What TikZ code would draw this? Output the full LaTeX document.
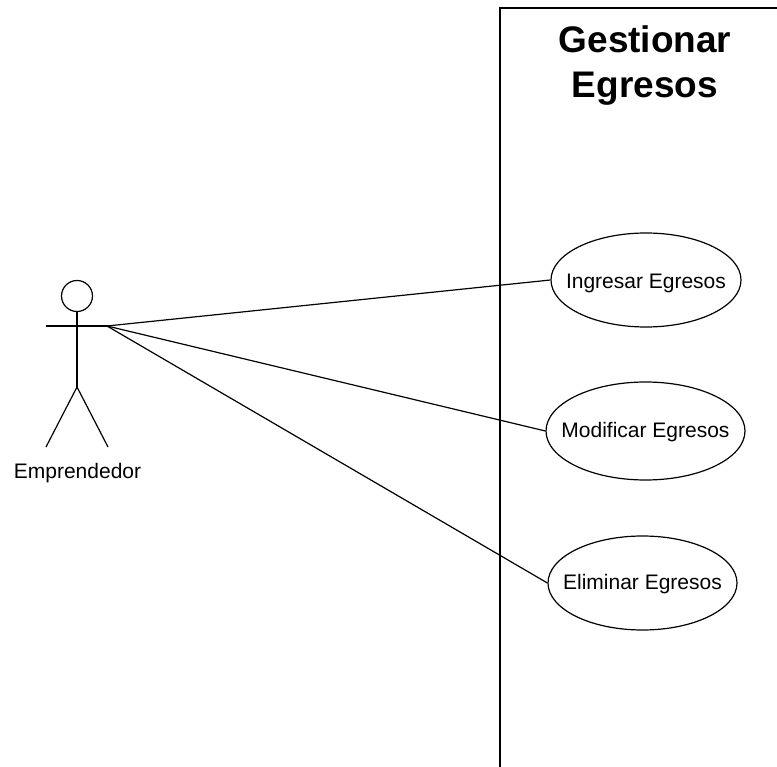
\documentclass[tikz,border=0pt]{standalone}
\usepackage{fontspec}
\setmainfont{Liberation Sans}
\usetikzlibrary{shapes.geometric}
\begin{document}
\begin{tikzpicture}[x=1pt,y=-1pt,
  ln/.style={draw=black,line width=1.2pt},
  usecase/.style={ln,ellipse,inner sep=0pt,fill=white},
  lbl/.style={inner sep=0pt,font=\fontsize{21}{25}\selectfont},
  uclbl/.style={lbl,text height=#1,text depth=0pt},
  ttl/.style={inner sep=0pt,align=center,font=\fontsize{37}{45}\selectfont\bfseries}]
\useasboundingbox (0,0) rectangle (777,767);
\path[fill=white] (0,0) rectangle (777,767);
% system boundary
\coordinate (bl) at (500,767);
\coordinate (tl) at (500,8);
\coordinate (tr) at (777,8);
\draw[ln,line width=1.8pt] (bl) -- (tl) -- (tr);
\node[ttl] (title) at (645,65.5) {Gestionar\\Egresos};
% actor
\node[ln,circle,minimum size=31pt,inner sep=0pt] (head) at (77,296) {};
\coordinate (hip) at (77,387);
\coordinate (handl) at (46,326);
\coordinate (handr) at (107,326);
\coordinate (footl) at (46,447);
\coordinate (footr) at (108,447);
\draw[ln] (head.south) -- (hip);
\draw[ln] (handl) -- (handr);
\draw[ln] (footl) -- (hip) -- (footr);
\node[lbl,anchor=base] (actor) at (77.5,478.5) {Emprendedor};
% use cases
\node[usecase,minimum width=190pt,minimum height=94pt,label={[uclbl=16.4pt]center:Ingresar Egresos}] (uc1) at (646,280) {};
\node[usecase,minimum width=199pt,minimum height=98pt,label={[uclbl=13pt]center:Modificar Egresos}] (uc2) at (645.5,431) {};
\node[usecase,minimum width=189pt,minimum height=94pt,label={[uclbl=13pt]center:Eliminar Egresos}] (uc3) at (642.5,583) {};
\draw[ln] (handr) -- (uc1.west);
\draw[ln] (handr) -- (uc2.west);
\draw[ln] (handr) -- (uc3.west);
\end{tikzpicture}
\end{document}
